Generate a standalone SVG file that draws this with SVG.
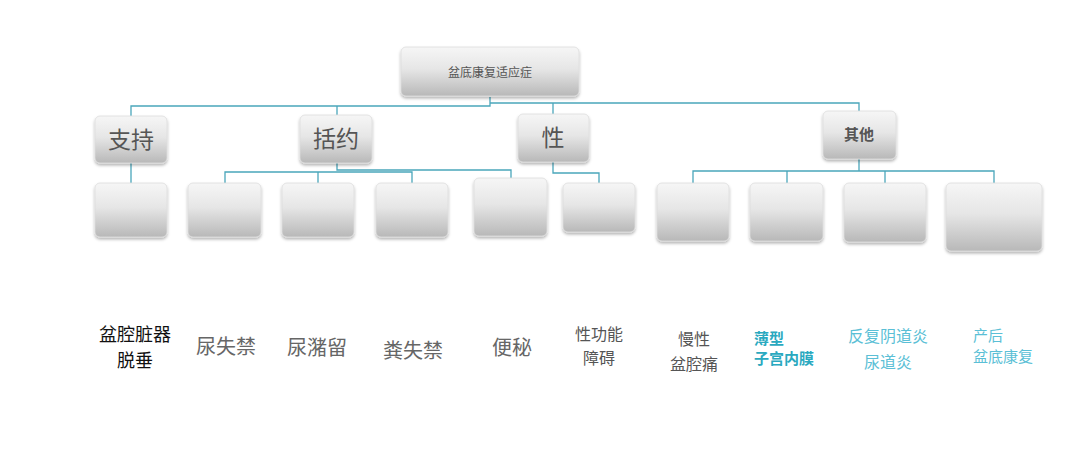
<svg xmlns="http://www.w3.org/2000/svg" width="1080" height="465" viewBox="0 0 1080 465">
<defs>
<linearGradient id="g" x1="0" y1="0" x2="0" y2="1">
<stop offset="0" stop-color="#f6f6f6"/>
<stop offset="0.45" stop-color="#e6e6e6"/>
<stop offset="1" stop-color="#b8b8b8"/>
</linearGradient>
<filter id="sh" x="-20%" y="-20%" width="140%" height="150%">
<feDropShadow dx="0" dy="2" stdDeviation="1.6" flood-color="#000" flood-opacity="0.3"/>
</filter>
</defs>
<style>
.box{fill:url(#g);stroke:#dddddd;stroke-width:0.8;filter:url(#sh)}
.c{fill:none;stroke:#4aa6bb;stroke-width:1.3}
.t{font-family:"Noto Sans CJK SC","Noto Sans",sans-serif;text-anchor:middle;fill:#555}
.cat{font-size:23px}
.lab{font-size:20px;fill:#666}
.sm{font-size:16px;fill:#555}
.blk{font-size:18px;fill:#111}
.teal{font-family:"Noto Sans CJK SC","Noto Sans",sans-serif;font-size:15px;font-weight:bold;fill:#2aa9bf}
.lb{font-family:"Noto Sans CJK SC","Noto Sans",sans-serif;font-size:16px;fill:#5bbfd6}
.lb2{font-family:"Noto Sans CJK SC","Noto Sans",sans-serif;font-size:15px;fill:#5bbfd6}
</style>
<rect width="1080" height="465" fill="#fff"/>
<g id="connectors">
<polyline class="c" points="490,97 490,106 131,106 131,116"/>
<line class="c" x1="337" y1="106" x2="337" y2="115"/>
<polyline class="c" points="490,103 859,103 859,111"/>
<line class="c" x1="553" y1="103" x2="553" y2="114"/>
<line class="c" x1="131" y1="163" x2="131" y2="183"/>
<polyline class="c" points="337,163 337,170 511,170 511,178"/>
<polyline class="c" points="225,183 225,172 412,172 412,183"/>
<line class="c" x1="318" y1="172" x2="318" y2="183"/>
<polyline class="c" points="553,162 553,173 599,173 599,183"/>
<line class="c" x1="859" y1="159" x2="859" y2="171"/>
<polyline class="c" points="693,183 693,171 994,171 994,183"/>
<line class="c" x1="787" y1="171" x2="787" y2="183"/>
<line class="c" x1="885" y1="171" x2="885" y2="183"/>
</g>
<g id="root"><rect class="box" x="401" y="47" width="178" height="49" rx="5"/><text class="t" x="490" y="77" font-size="12">盆底康复适应症</text></g>
<g id="n-zhichi"><rect class="box" x="95" y="116" width="72" height="47" rx="5"/><text class="t cat" x="131" y="148">支持</text></g>
<g id="n-kuoyue"><rect class="box" x="300" y="115" width="72" height="48" rx="5"/><text class="t cat" x="336" y="147">括约</text></g>
<g id="n-xing"><rect class="box" x="518" y="114" width="71" height="48" rx="5"/><text class="t cat" x="553" y="146">性</text></g>
<g id="n-qita"><rect class="box" x="823" y="111" width="73" height="48" rx="5"/><text class="t" x="859" y="140" font-size="15" font-weight="bold" fill="#111">其他</text></g>
<g id="b1"><rect class="box" x="95" y="183" width="72" height="54" rx="5"/></g>
<g id="b2"><rect class="box" x="188" y="183" width="73" height="54" rx="5"/></g>
<g id="b3"><rect class="box" x="282" y="183" width="72" height="54" rx="5"/></g>
<g id="b4"><rect class="box" x="376" y="183" width="72" height="54" rx="5"/></g>
<g id="b5"><rect class="box" x="474" y="178" width="73" height="58" rx="5"/></g>
<g id="b6"><rect class="box" x="563" y="183" width="72" height="49" rx="5"/></g>
<g id="b7"><rect class="box" x="657" y="183" width="72" height="58" rx="5"/></g>
<g id="b8"><rect class="box" x="750" y="183" width="73" height="58" rx="5"/></g>
<g id="b9"><rect class="box" x="844" y="183" width="82" height="59" rx="5"/></g>
<g id="b10"><rect class="box" x="946" y="183" width="96" height="68" rx="5"/></g>
<g id="labels">
<text class="t blk" x="135" y="341">盆腔脏器</text>
<text class="t blk" x="135" y="367">脱垂</text>
<text class="t lab" x="226" y="354">尿失禁</text>
<text class="t lab" x="317" y="355">尿潴留</text>
<text class="t lab" x="413" y="358">粪失禁</text>
<text class="t lab" x="512" y="355">便秘</text>
<text class="t sm" x="599" y="340">性功能</text>
<text class="t sm" x="599" y="364">障碍</text>
<text class="t sm" x="694" y="345">慢性</text>
<text class="t sm" x="694" y="370">盆腔痛</text>
<text class="teal" x="754" y="344">薄型</text>
<text class="teal" x="754" y="364">子宫内膜</text>
<text class="lb" x="888" y="342" text-anchor="middle">反复阴道炎</text>
<text class="lb" x="888" y="368" text-anchor="middle">尿道炎</text>
<text class="lb2" x="973" y="341">产后</text>
<text class="lb2" x="973" y="362">盆底康复</text>
</g>
</svg>
